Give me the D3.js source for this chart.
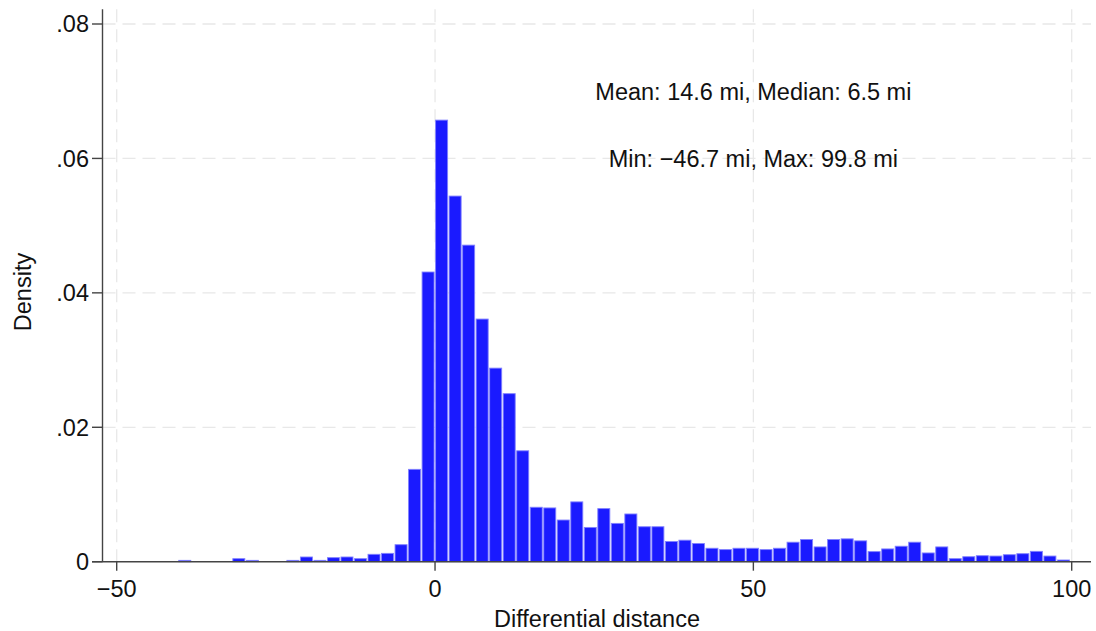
<!DOCTYPE html>
<html>
<head>
<meta charset="utf-8">
<script src="https://cdn.jsdelivr.net/npm/d3@7"></script>
<style>
  html, body { margin: 0; padding: 0; background: #ffffff; }
  svg { display: block; font-family: "Liberation Sans", Arial, Helvetica, sans-serif; }
</style>
</head>
<body>
<svg id="chart" width="1096" height="631"></svg>
<script>
// ---- data ----
const dataMin = -46.7;
const dataMax = 99.8;
const densities = [
  0, 0, 0, 0.0002, 0, 0, 0, 0.00045, 0.0002, 0,
  0, 0.0002, 0.0007, 0.0002, 0.0006, 0.0007, 0.00045, 0.0011, 0.00124, 0.00253,
  0.01374, 0.0431, 0.0657, 0.0544, 0.0471, 0.0361, 0.0288, 0.0250, 0.0165, 0.0081,
  0.0080, 0.0062, 0.0089, 0.0051, 0.0079, 0.0057, 0.0071, 0.0052, 0.0052, 0.0030,
  0.0032, 0.0027, 0.0020, 0.0018, 0.0020, 0.0020, 0.0018, 0.0020, 0.0029, 0.0033,
  0.0022, 0.0033, 0.0034, 0.0031, 0.0015, 0.0019, 0.0023, 0.0029, 0.0013, 0.0022,
  0.00045, 0.00074, 0.00089, 0.00084, 0.00104, 0.00119, 0.00154, 0.00084, 0.00025
];
const xTicks = [-50, 0, 50, 100];
const yTicks = [0, 0.02, 0.04, 0.06, 0.08];
const annotations = ["Mean: 14.6 mi, Median: 6.5 mi", "Min: \u221246.7 mi, Max: 99.8 mi"];
const annotationY = [0.07, 0.06];
const annotationX = 50;
const xTitle = "Differential distance";
const yTitle = "Density";

// ---- layout ----
const svg = d3.select("#chart");
const xScale = d3.scaleLinear().domain([-50, 100]).range([116.7, 1071.7]);
const yScale = d3.scaleLinear().domain([0, 0.08]).range([561.7, 24]);
const axisLeftX = 102.5;
const axisRightX = 1091;
const plotTop = yScale(0.0822);
const gridColor = "#e8e8e8";
const tickFont = 23.5;
const textFont = 23.5;
const fmtY = v => v === 0 ? "0" : d3.format(".2f")(v).replace(/^0/, "");
const fmtX = v => v < 0 ? "\u2212" + Math.abs(v) : String(v);

// gridlines
const grid = svg.append("g");
grid.selectAll("line.h").data(yTicks.filter(d => d > 0)).join("line")
  .attr("x1", axisLeftX).attr("x2", axisRightX)
  .attr("y1", d => yScale(d)).attr("y2", d => yScale(d))
  .attr("stroke", gridColor).attr("stroke-width", 1.3).attr("stroke-dasharray", "13,7");
grid.selectAll("line.v").data(xTicks).join("line")
  .attr("x1", d => xScale(d)).attr("x2", d => xScale(d))
  .attr("y1", plotTop).attr("y2", yScale(0))
  .attr("stroke", gridColor).attr("stroke-width", 1.3).attr("stroke-dasharray", "13,7");

// bars
const binW = (dataMax - dataMin) / densities.length;
const bars = svg.append("g");
densities.forEach((d, i) => {
  if (d <= 0) return;
  const x0 = xScale(dataMin + i * binW);
  const x1 = xScale(dataMin + (i + 1) * binW);
  const yt = yScale(d);
  bars.append("rect")
    .attr("x", x0 + 0.5).attr("y", yt)
    .attr("width", Math.max(0, x1 - x0 - 1.5)).attr("height", yScale(0) - yt)
    .attr("fill", "#1a1aff")
    .attr("stroke", "#8080ff").attr("stroke-width", 0.9);
});

// axes
const axG = svg.append("g").attr("stroke", "#444").attr("stroke-width", 1.4);
axG.append("line").attr("x1", axisLeftX).attr("x2", axisLeftX).attr("y1", plotTop).attr("y2", yScale(0));
axG.append("line").attr("x1", axisLeftX - 10.5).attr("x2", axisRightX).attr("y1", yScale(0)).attr("y2", yScale(0));
axG.selectAll("line.yt").data(yTicks).join("line")
  .attr("x1", axisLeftX - 10.5).attr("x2", axisLeftX)
  .attr("y1", d => yScale(d)).attr("y2", d => yScale(d));
axG.selectAll("line.xt").data(xTicks).join("line")
  .attr("x1", d => xScale(d)).attr("x2", d => xScale(d))
  .attr("y1", yScale(0)).attr("y2", yScale(0) + 9);

// tick labels
svg.append("g").selectAll("text").data(yTicks).join("text")
  .attr("x", 89).attr("y", d => yScale(d)).attr("dy", "0.36em")
  .attr("text-anchor", "end").attr("font-size", tickFont).attr("fill", "#111")
  .text(fmtY);
svg.append("g").selectAll("text").data(xTicks).join("text")
  .attr("x", d => xScale(d)).attr("y", 597)
  .attr("text-anchor", "middle").attr("font-size", tickFont).attr("fill", "#111")
  .text(fmtX);

// axis titles
svg.append("text").attr("x", 597).attr("y", 627)
  .attr("text-anchor", "middle").attr("font-size", textFont).attr("fill", "#111").text(xTitle);
svg.append("text").attr("transform", "translate(31,292) rotate(-90)")
  .attr("text-anchor", "middle").attr("font-size", textFont).attr("fill", "#111").text(yTitle);

// annotations
svg.append("g").selectAll("text").data(annotations).join("text")
  .attr("x", xScale(annotationX)).attr("y", (d, i) => yScale(annotationY[i])).attr("dy", "0.36em")
  .attr("text-anchor", "middle").attr("font-size", textFont).attr("fill", "#111")
  .text(d => d);
</script>
</body>
</html>
